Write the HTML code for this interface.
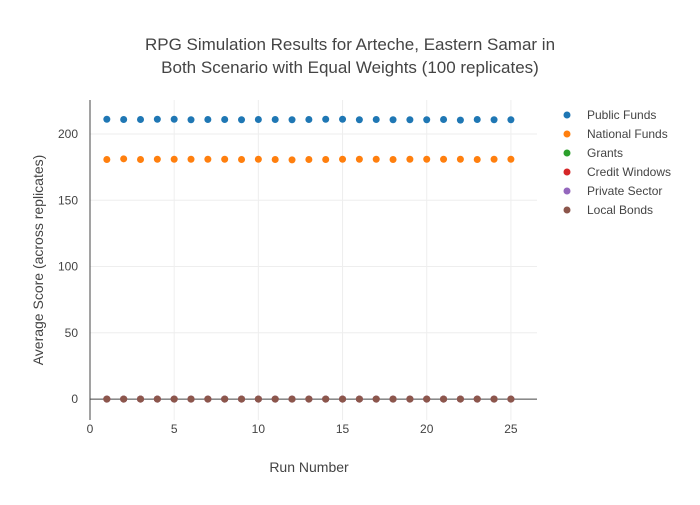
<!DOCTYPE html>
<html><head><meta charset="utf-8"><style>
body{margin:0;background:#fff;font-family:"Liberation Sans",sans-serif}
text{font-family:"Liberation Sans",sans-serif;fill:#444}
</style></head><body>
<svg width="700" height="500">
<text x="350" y="50" text-anchor="middle" font-size="17">RPG Simulation Results for Arteche, Eastern Samar in</text>
<text x="350" y="73" text-anchor="middle" font-size="17">Both Scenario with Equal Weights (100 replicates)</text>
<g id="grid"></g>
<g id="axes"></g>
<g id="marks"></g>
<text x="309" y="472" text-anchor="middle" font-size="14">Run Number</text>
<text transform="translate(43,260) rotate(-90)" text-anchor="middle" font-size="14">Average Score (across replicates)</text>
<g id="legend"></g>
</svg>
<script>
const runs=[1,2,3,4,5,6,7,8,9,10,11,12,13,14,15,16,17,18,19,20,21,22,23,24,25];
const publicFunds=[211.2,211,211,211.2,211.2,210.8,211,211,210.8,211,211,210.8,211,211.2,211.2,210.8,211,210.8,210.8,210.8,211,210.5,211,210.8,210.8];
const nationalFunds=[180.8,181.3,180.8,181,181,181,181,181,180.8,181,180.8,180.5,180.8,180.8,181,181,181,180.8,181,181,181,181,180.8,181,181];
const zeros=runs.map(()=>0);
const seriesNames=["Public Funds","National Funds","Grants","Credit Windows","Private Sector","Local Bonds"];
const seriesColors=["#1f77b4","#ff7f0e","#2ca02c","#d62728","#9467bd","#8c564b"];
const seriesValues=[publicFunds,nationalFunds,zeros,zeros,zeros,zeros];
const xTicks=[0,5,10,15,20,25];
const yTicks=[0,50,100,150,200];
const NS="http://www.w3.org/2000/svg";
const X0=90,X1=537,Y0=100,Y1=420;
const xmin=0,xmax=26.55,ymin=-15.8,ymax=225.7;
const sx=v=>X0+(v-xmin)/(xmax-xmin)*(X1-X0);
const sy=v=>Y1-(v-ymin)/(ymax-ymin)*(Y1-Y0);
function mk(tag,attrs,parent){const e=document.createElementNS(NS,tag);for(const k in attrs)e.setAttribute(k,attrs[k]);document.getElementById(parent).appendChild(e);return e;}
xTicks.forEach(t=>{
 if(t>0){const g=mk('line',{x1:sx(t),x2:sx(t),y1:Y0,y2:Y1,stroke:'#eee'},'grid');
 
 }
 const l=mk('text',{x:sx(t),y:433,'text-anchor':'middle','font-size':12},'axes');l.textContent=t;
 
 
});
yTicks.forEach(t=>{
 if(t>0){const g=mk('line',{x1:X0,x2:X1,y1:sy(t),y2:sy(t),stroke:'#eee'},'grid');
 
 }
 const l=mk('text',{x:78,y:sy(t)+4,'text-anchor':'end','font-size':12},'axes');l.textContent=t;
 
 
});
const za=mk('line',{x1:X0,x2:X1,y1:sy(0),y2:sy(0),stroke:'#444','stroke-width':1},'axes');


const ya=mk('line',{x1:X0,x2:X0,y1:Y0,y2:Y1,stroke:'#444','stroke-width':1},'axes');


seriesValues.forEach((vals,si)=>{
 vals.forEach((v,i)=>{
  const c=mk('circle',{cx:sx(runs[i]),cy:sy(v),r:3.5,fill:seriesColors[si]},'marks');
  
  
 });
});
seriesNames.forEach((n,i)=>{
 const y=115+i*19;
 const c=mk('circle',{cx:567,cy:y,r:3.5,fill:seriesColors[i]},'legend');
 
 
 const t=mk('text',{x:587,y:y+4,'font-size':12},'legend');t.textContent=n;
 
 
});
</script>
</body></html>
